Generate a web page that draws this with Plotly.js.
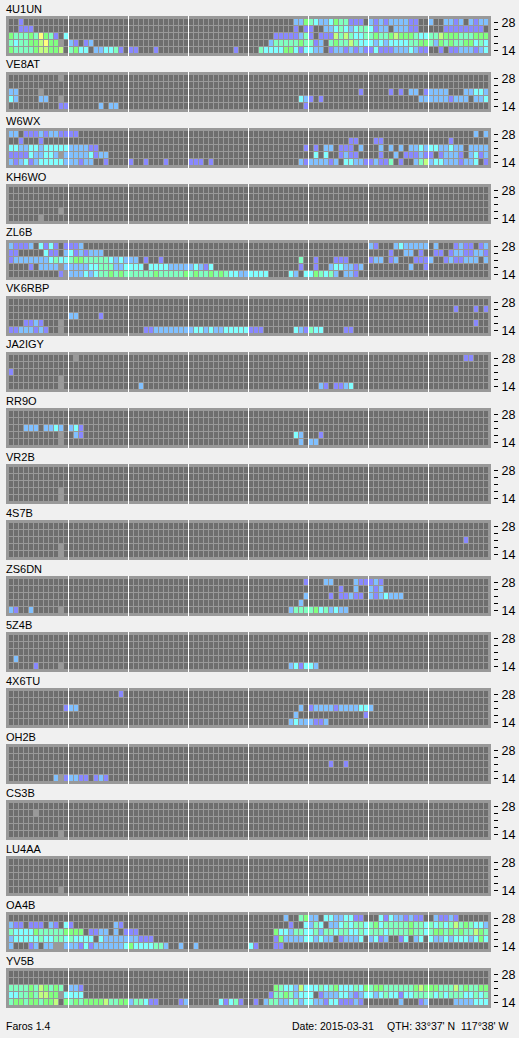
<!DOCTYPE html>
<html><head><meta charset="utf-8">
<script src="https://cdn.plot.ly/plotly-3.0.1.min.js"></script>
<style>html,body{margin:0;padding:0;background:#f0f0f0;overflow:hidden}</style></head>
<body><div id="chart" style="width:519px;height:1038px"></div>
<script>
// Each station: rows for bands 28, 24, 21, 18, 14. Every group is 12 time slots.
// "." no signal, "x" no data, 1-7 signal level. Trailing empty groups are omitted.
const Z0 = "............";
const s_4U1UN = [
"..1......... "+Z0+" "+Z0+" "+Z0+" .........225 43223544111. 2121222211.. 2..2212.2122",
"..111....... "+Z0+" "+Z0+" "+Z0+" .........1.1 1..223432344 3122.22211.. ...11111111.",
"5444547541.3 "+Z0+" "+Z0+" "+Z0+" .....1111124 1.1116464334 454456555433 446555444555",
"4344556755x. 21.12....... "+Z0+" "+Z0+" ....24444454 412.45446433 323233334455 425454455343",
"54444566556. 4533.223341. 11...1...... .........1.. ..4333355313 322.12212121 131112223211 ..1.11222123"];
const s_VE8AT = [
"..........x.",
"",
"22....x..... "+Z0+" "+Z0+" "+Z0+" "+Z0+" ..........1. ....1.1.22.1 2222...22332",
"32....22..x. "+Z0+" "+Z0+" "+Z0+" ..........32 1.1......... ..........22 22221222.223",
"..........11 ......2.22.. "+Z0+" "+Z0+" ...........1"];
const s_W6WX = [
"22.111212211 11.......... "+Z0+" "+Z0+" "+Z0+" "+Z0+" "+Z0+" .........2.2",
"..1...1..... "+Z0+" "+Z0+" "+Z0+" "+Z0+" ........11.. .11......... ....1.......",
"332233233333 222211...... "+Z0+" "+Z0+" ...........1 .1.22.111.2. ..2.2.2.2232 3322322.2222",
"1111322332x2 22223122.... "+Z0+" "+Z0+" "+Z0+" .3.3..1211.. ..1..2.11121 1.12221.2312",
"212312333332 22122..1.... 1..1...1.... 111.1....... ..........21 222212.33221 12114.1..246 2332221223.1"];
const s_KH6WO = ["","","","..........x.","......x....."];
const s_ZL6B = [
"21112.3131.1 112......... "+Z0+" "+Z0+" "+Z0+" "+Z0+" 21...2322222 .2...1211.12",
"11.....311.2 3121222..... "+Z0+" "+Z0+" "+Z0+" "+Z0+" ....1..22.1. .11.12211221",
"122222223433 455444443232 22.1..1..... "+Z0+" ..........4. .1...111.... 122.12...111 2..1211222.2",
"....1.2222x2 222233444223 333.33332222 23213....... ..........1. .1..2332212. ........2..1",
"..........1x 222323445454 444445444445 454454543322 3333....32.3 354342.221.."];
const s_VK6RBP = [
"",
Z0+" "+Z0+" "+Z0+" "+Z0+" "+Z0+" "+Z0+" "+Z0+" .....1...1.1",
Z0+" 22....1.....",
"...1121...x. "+Z0+" "+Z0+" "+Z0+" "+Z0+" "+Z0+" "+Z0+" .........1..",
"11222121..x. "+Z0+" ...112222222 233232233333 111......321 433....11..."];
const s_JA2IGY = [
Z0+" .x.......... "+Z0+" "+Z0+" "+Z0+" "+Z0+" "+Z0+" .......11...",
"",
"1...........",
"..........x.",
"..........x. "+Z0+" ..2......... "+Z0+" "+Z0+" ..21.1123..."];
const s_RR9O = [
"",
"",
"...222.2232. 231.........",
"..........x. .21......... "+Z0+" "+Z0+" .........32. ..1.........",
"..........x. "+Z0+" "+Z0+" "+Z0+" ..........2. 22.........."];
const s_VR2B = ["","","","..........x.","..........x."];
const s_4S7B = ["","",Z0+" "+Z0+" "+Z0+" "+Z0+" "+Z0+" "+Z0+" "+Z0+" .......1....","..........x.","..........x."];
const s_ZS6DN = [
Z0+" "+Z0+" "+Z0+" "+Z0+" ...........1 ...22....211 121.........",
Z0+" "+Z0+" "+Z0+" "+Z0+" "+Z0+" ......1..2.. 212.........",
Z0+" "+Z0+" "+Z0+" "+Z0+" ...........2 ....1.11211. 2123222.....",
Z0+" "+Z0+" "+Z0+" "+Z0+" ..........2.",
"21..2.....x. "+Z0+" "+Z0+" "+Z0+" ........2444 45342322...."];
const s_5Z4B = [
"",
"",
"",
".2..........",
".....1....x. "+Z0+" "+Z0+" "+Z0+" ........2313 32.........."];
const s_4X6TU = [
Z0+" ..........1.",
"",
"...........1 22.......... "+Z0+" "+Z0+" ..........2. 122221222233 2...........",
Z0+" "+Z0+" "+Z0+" "+Z0+" .........2.. ...........1",
Z0+" "+Z0+" "+Z0+" "+Z0+" ........2322 2112........"];
const s_OH2B = [
"",
"",
Z0+" "+Z0+" "+Z0+" "+Z0+" "+Z0+" ....1..1....",
"",
".........2x1 2211.121...."];
const s_CS3B = ["",".....x......","","","..........x."];
const s_LU4AA = ["","","","","..........x."];
const s_OA4B = [
Z0+" "+Z0+" "+Z0+" "+Z0+" .......2..45 22.33223311. ..313221211. .21121......",
"211.111.21.3 1........21. "+Z0+" "+Z0+" ........1..3 243.22343443 453444445443 434346454332",
"433335444445 555.1122.2.1 11.......... "+Z0+" .....5332443 342443443343 444344445443 455454544654",
"233333433443 43333.322222 22111....... "+Z0+" .....1522223 32322.12223. 2312..13.23. 322323332353",
"2...12.22xx2 221312222223 53333442..2. .2.......... 31...11....."];
const s_YV5B = [
"",
"",
"44445465454. 221......... "+Z0+" "+Z0+" .....5433263 334345333435 455444444565 554446454455",
"3344546655x3 333......... "+Z0+" "+Z0+" ....14454233 3.1222332123 323433133444 434344433434",
"4554554556.5 454555564455 244311....12 ......31341. .1.244223423 32213311121. ......2...12 .....2222333"];

const stations = ["4U1UN","VE8AT","W6WX","KH6WO","ZL6B","VK6RBP","JA2IGY","RR9O","VR2B","4S7B","ZS6DN","5Z4B","4X6TU","OH2B","CS3B","LU4AA","OA4B","YV5B"];
const stationRows = [s_4U1UN,s_VE8AT,s_W6WX,s_KH6WO,s_ZL6B,s_VK6RBP,s_JA2IGY,s_RR9O,s_VR2B,s_4S7B,s_ZS6DN,s_5Z4B,s_4X6TU,s_OH2B,s_CS3B,s_LU4AA,s_OA4B,s_YV5B];
const bandTicks = ["14","","","","28"];
const levelColors = ["#6e6e6e","#8888ff","#80c0ff","#80ffff","#80ffc0","#80ff80","#c0ff80","#ffff80"];
const footerLeft = "Faros 1.4";
const footerDate = "Date: 2015-03-31";
const footerQth = "QTH: 33°37' N&nbsp;&nbsp;117°38' W";

const W = 519, H = 1038, FONT = "Liberation Sans, Arial, sans-serif";
const parseRow = s => {
  const groups = s.trim().split(/\s+/).filter(Boolean);
  const out = [];
  for (let g = 0; g < 8; g++) {
    const t = (groups[g] || "").padEnd(12, ".").slice(0, 12);
    for (const ch of t) out.push(ch === "." ? 0 : ch === "x" ? null : +ch);
  }
  return out;
};
const cols = Array.from({length: 96}, (_, i) => i);
const scale = levelColors.map((c, i) => [i / 7, c]);
const traces = [], annotations = [];
const layout = {
  width: W, height: H, autosize: false,
  margin: {l: 0, r: 0, t: 0, b: 0, pad: 0},
  paper_bgcolor: "#f0f0f0", plot_bgcolor: "#999999",
  font: {family: FONT, color: "#000"},
  showlegend: false,
  xaxis: {domain: [6 / W, 491 / W], range: [-1.1, 95.9], tickmode: "array",
    tickvals: [11.4, 23.4, 35.4, 47.4, 59.4, 71.4, 83.4], ticktext: ["", "", "", "", "", "", ""],
    showgrid: true, gridcolor: "#ffffff", gridwidth: 1, zeroline: false, ticks: "", showline: false, fixedrange: true}
};
stations.forEach((name, i) => {
  const top = 16 + 56 * i, key = i === 0 ? "yaxis" : "yaxis" + (i + 1);
  traces.push({type: "heatmap", x: cols, y: [0, 1, 2, 3, 4],
    z: stationRows[i].map(parseRow).reverse(),
    xaxis: "x", yaxis: i === 0 ? "y" : "y" + (i + 1),
    zmin: 0, zmax: 7, colorscale: scale, showscale: false,
    xgap: 1, ygap: 1, hoverinfo: "skip", hoverongaps: false});
  layout[key] = {domain: [1 - (top + 40) / H, 1 - top / H],
    range: [-0.786, 4.929], anchor: "free", position: 493 / W, side: "right",
    tickmode: "array", tickvals: [0, 1, 2, 3, 4], ticktext: bandTicks,
    ticks: "outside", ticklen: 4, tickwidth: 1, tickcolor: "#000",
    tickfont: {family: FONT, size: 12.5, color: "#000"}, ticklabelstandoff: 1,
    showgrid: false, zeroline: false, showline: false, fixedrange: true};
  annotations.push({text: name, xref: "paper", yref: "paper", x: 5 / W, y: 1 - (top - 7.5) / H,
    xanchor: "left", yanchor: "middle", showarrow: false, align: "left", borderpad: 0,
    font: {family: FONT, size: 11, color: "#000"}});
});
[[footerLeft, 5], [footerDate, 291], [footerQth, 386]].forEach(([text, px]) => {
  annotations.push({text, xref: "paper", yref: "paper", x: px / W, y: 1 - 1026 / H,
    xanchor: "left", yanchor: "middle", showarrow: false, borderpad: 0,
    font: {family: FONT, size: 10.5, color: "#000"}});
});
layout.annotations = annotations;
Plotly.newPlot("chart", traces, layout, {staticPlot: true, displayModeBar: false});
</script></body></html>
